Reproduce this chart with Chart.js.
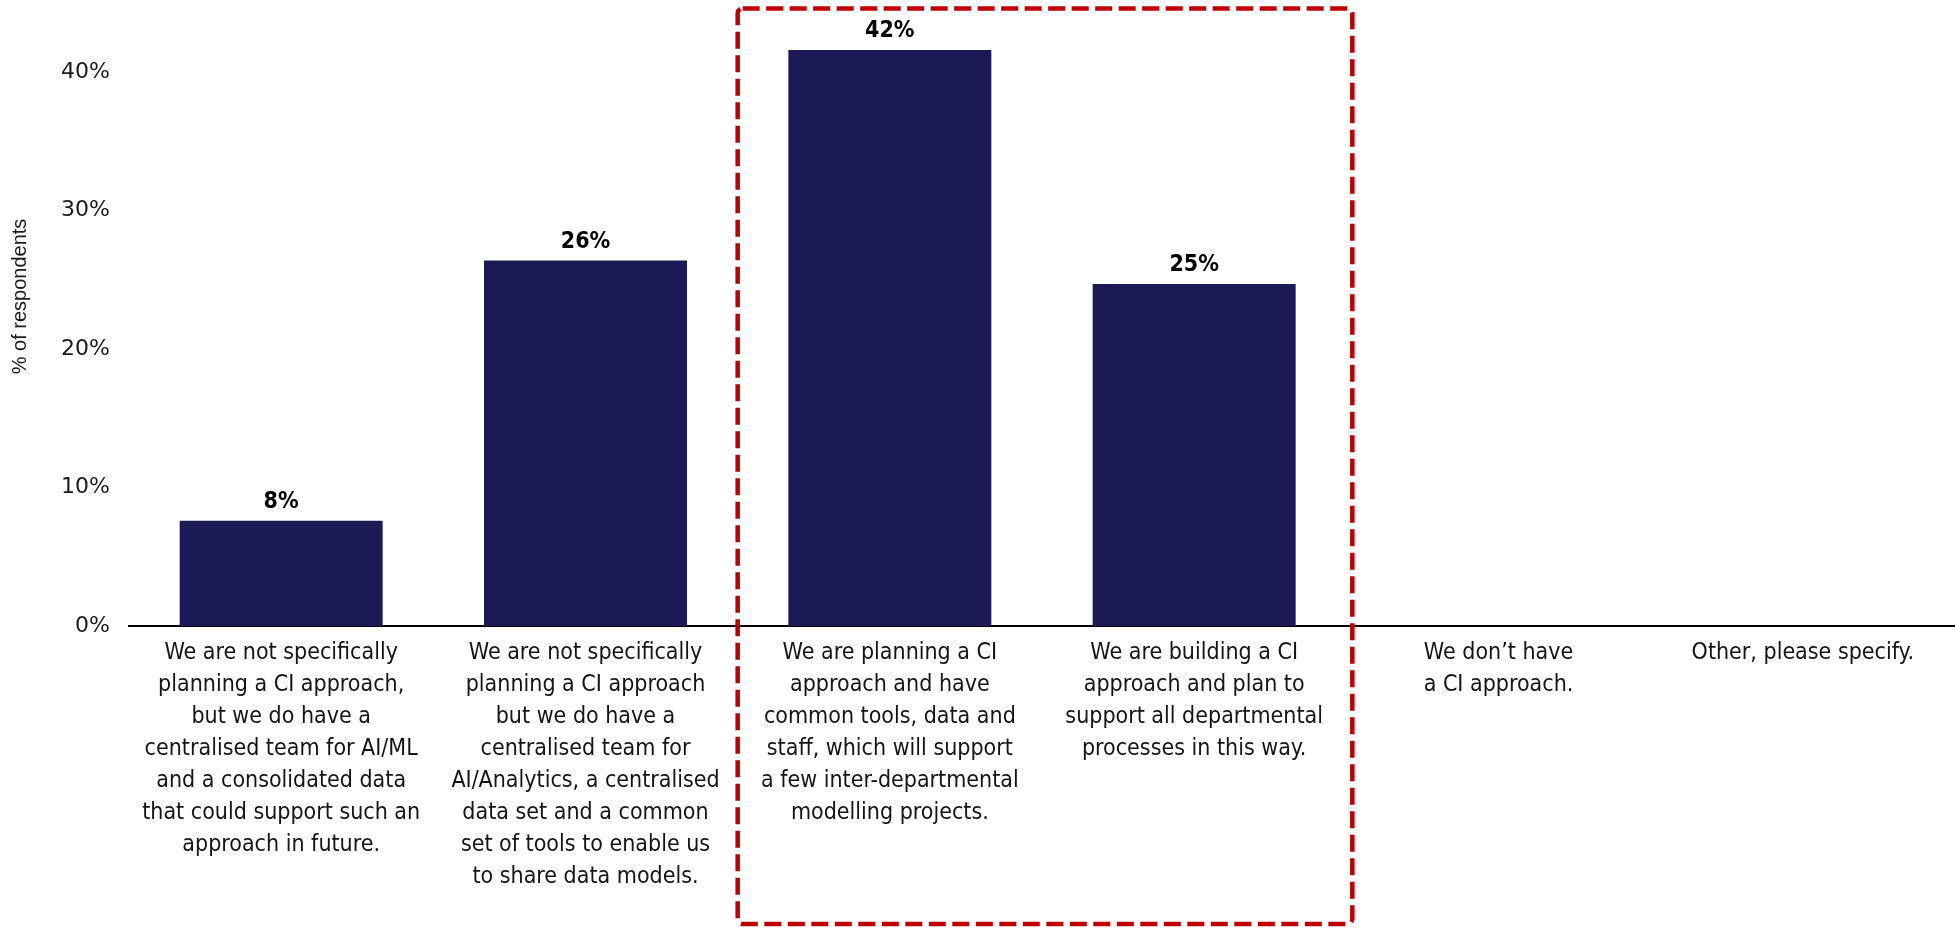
<!DOCTYPE html>
<html>
<head>
<meta charset="utf-8">
<script src="https://cdn.jsdelivr.net/npm/chart.js@4.4.1/dist/chart.umd.min.js"></script>
<style>
  html, body { margin: 0; padding: 0; background: #ffffff; }
  #wrap { width: 1955px; height: 930px; position: relative; }
</style>
</head>
<body>
<div id="wrap"><canvas id="chart" width="1955" height="930"></canvas></div>
<script>
// Survey answers (multi-line category labels)
const categories = [
  ["We are not specifically", "planning a CI approach,", "but we do have a", "centralised team for AI/ML", "and a consolidated data", "that could support such an", "approach in future."],
  ["We are not specifically", "planning a CI approach", "but we do have a", "centralised team for", "AI/Analytics, a centralised", "data set and a common", "set of tools to enable us", "to share data models."],
  ["We are planning a CI", "approach and have", "common tools, data and", "staff, which will support", "a few inter-departmental", "modelling projects."],
  ["We are building a CI", "approach and plan to", "support all departmental", "processes in this way."],
  ["We don\u2019t have", "a CI approach."],
  ["Other, please specify."]
];

// Share of respondents (%)
const respondentShare = [7.6, 26.4, 41.6, 24.7, 0, 0];

// Y axis tick values
const yTicks = [0, 10, 20, 30, 40];

// Y axis caption
const yAxisTitle = '% of respondents';

// Categories grouped inside the highlight frame (first and last index)
const highlightRange = [2, 3];

const BAR_COLOR = '#1c1a56';
const FRAME_COLOR = '#c00000';
const CONDENSED = '"DejaVu Sans Condensed", "Liberation Sans Narrow", sans-serif';

// Percentage labels above each bar
const valueLabels = {
  id: 'valueLabels',
  afterDatasetsDraw(chart) {
    const { ctx } = chart;
    const meta = chart.getDatasetMeta(0);
    ctx.save();
    ctx.font = 'bold 23px ' + CONDENSED;
    ctx.fillStyle = '#000000';
    ctx.textAlign = 'center';
    ctx.textBaseline = 'alphabetic';
    meta.data.forEach((bar, i) => {
      const v = respondentShare[i];
      if (!v) return;
      ctx.fillText(Math.round(v) + '%', bar.x, bar.y - 13);
    });
    ctx.restore();
  }
};

// Rotated caption on the left of the value axis
const yCaption = {
  id: 'yCaption',
  afterDraw(chart) {
    const { ctx, chartArea } = chart;
    ctx.save();
    ctx.translate(20, (chartArea.top + chartArea.bottom) / 2 - 18);
    ctx.rotate(-Math.PI / 2);
    ctx.font = '20px "Liberation Sans", Arial, sans-serif';
    ctx.fillStyle = '#1a1a1a';
    ctx.textAlign = 'center';
    ctx.textBaseline = 'middle';
    ctx.fillText(yAxisTitle, 0, 0);
    ctx.restore();
  }
};

// Dashed frame around the highlighted categories
const highlightFrame = {
  id: 'highlightFrame',
  afterDraw(chart) {
    const { ctx, chartArea } = chart;
    const x = chart.scales.x;
    const left = x.getPixelForValue(highlightRange[0] - 0.5);
    const right = x.getPixelForValue(highlightRange[1] + 0.5) + 6;
    const top = chartArea.top + 5.5;
    const bottom = chart.height - 6;
    const r = 5;
    ctx.save();
    ctx.strokeStyle = FRAME_COLOR;
    ctx.lineWidth = 4.5;
    ctx.setLineDash([17, 6.5]);
    ctx.beginPath();
    ctx.moveTo(left + r, top);
    ctx.lineTo(right - r, top);
    ctx.arcTo(right, top, right, top + r, r);
    ctx.lineTo(right, bottom - r);
    ctx.arcTo(right, bottom, right - r, bottom, r);
    ctx.lineTo(left + r, bottom);
    ctx.arcTo(left, bottom, left, bottom - r, r);
    ctx.lineTo(left, top + r);
    ctx.arcTo(left, top, left + r, top, r);
    ctx.closePath();
    ctx.stroke();
    ctx.restore();
  }
};

new Chart(document.getElementById('chart'), {
  type: 'bar',
  data: {
    labels: categories,
    datasets: [{
      data: respondentShare,
      backgroundColor: BAR_COLOR,
      borderWidth: 0,
      barPercentage: 0.667,
      categoryPercentage: 1.0
    }]
  },
  options: {
    responsive: false,
    animation: false,
    maintainAspectRatio: false,
    layout: { padding: { top: 3, right: 0, bottom: 0, left: 0 } },
    plugins: {
      legend: { display: false },
      tooltip: { enabled: false }
    },
    scales: {
      x: {
        grid: { display: false, drawTicks: false },
        border: { display: true, color: '#000000', width: 2 },
        ticks: {
          color: '#141414',
          font: { family: CONDENSED, size: 23, lineHeight: '32px' },
          padding: 11,
          maxRotation: 0,
          minRotation: 0,
          autoSkip: false
        },
        afterFit(scale) {
          scale.height = 304;
          scale.paddingLeft = 0;
          scale.paddingRight = 0;
        }
      },
      y: {
        min: 0,
        max: 45,
        grid: { display: false, drawTicks: false },
        border: { display: false },
        afterBuildTicks(scale) {
          scale.ticks = yTicks.map(v => ({ value: v }));
        },
        ticks: {
          color: '#1a1a1a',
          font: { family: '"DejaVu Sans", sans-serif', size: 22 },
          padding: 19,
          callback: (v) => v + '%'
        },
        afterFit(scale) {
          scale.width = 129;
          scale.paddingTop = 0;
          scale.paddingBottom = 0;
        }
      }
    }
  },
  plugins: [valueLabels, yCaption, highlightFrame]
});
</script>
</body>
</html>
